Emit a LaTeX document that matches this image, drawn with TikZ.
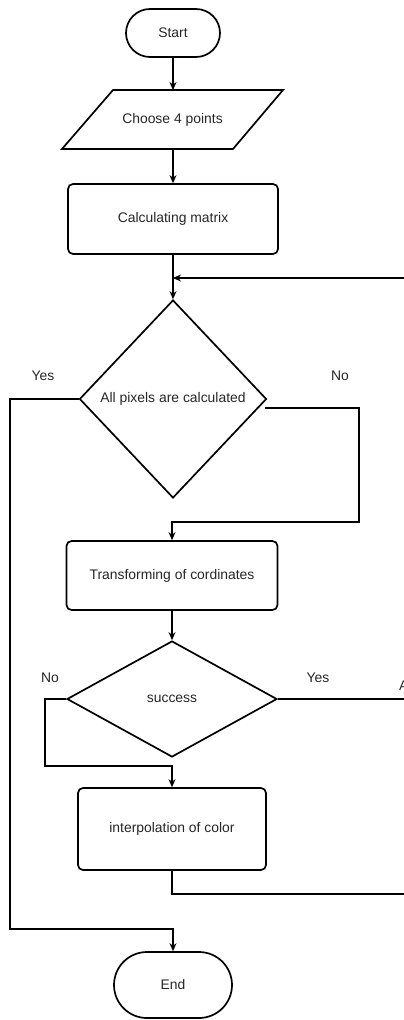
\documentclass[tikz,border=0pt]{standalone}
\usepackage{fontspec}
\setmainfont{Liberation Sans}
\usetikzlibrary{shapes.geometric,shapes.misc,arrows.meta,calc}
\begin{document}
\begin{tikzpicture}[x=1pt,y=-1pt,
  font=\fontsize{13.9}{16}\selectfont,
  every node/.style={text=black!85},
  term/.style={draw=black, line width=1.7pt, rounded rectangle, inner sep=0pt},
  procbox/.style={draw=black, line width=1.7pt, rounded corners=5pt, inner sep=0pt},
  decision/.style={draw=black, line width=1.7pt, diamond, inner sep=0pt},
  conn/.style={draw=black, line width=1.1pt},
  arr/.style={conn, -{Stealth[length=8pt,width=7pt]}},
  lbl/.style={inner sep=0pt}
]
\useasboundingbox (0,0) rectangle (404,1020);

% nodes
\node[term, minimum width=94pt, minimum height=48pt] (start) at (173,33) {Start};
\node[minimum width=170pt, minimum height=59pt, inner sep=0pt] (choose) at (172.5,119.5) {Choose 4 points};
\draw[line width=1.7pt, line join=miter] (113,90) -- (283,90) -- (233,149) -- (62,149) -- cycle;
\node[procbox, minimum width=210pt, minimum height=70pt] (calc) at (173,219) {Calculating matrix};
\node[decision, minimum width=187pt, minimum height=198pt] (d1) at (173,399) {All pixels are calculated};
\node[procbox, minimum width=211pt, minimum height=69pt] (trans) at (172,575.5) {Transforming of cordinates};
\node[decision, minimum width=210pt, minimum height=116pt] (d2) at (172,699) {success};
\node[procbox, minimum width=188pt, minimum height=82pt] (interp) at (172,829) {interpolation of color};
\node[term, minimum width=118pt, minimum height=66pt] (end) at (173,985) {End};

% labels
\node[lbl] (y1) at (43,376) {Yes};
\node[lbl] (n1) at (340,376) {No};
\node[lbl] (n2) at (50,678) {No};
\node[lbl] (y2) at (318,678) {Yes};
\node[lbl, anchor=west] (aa) at (399,686) {A};

% free-end coordinates
\coordinate (loopin) at (420,278);
\coordinate (yesL) at (10,399);
\coordinate (yesB) at (10,929);
\coordinate (noS) at ($(d1.east)+(-2,9)$);
\coordinate (noR) at (359,408);
\coordinate (noB) at (359,522);
\coordinate (n2L) at (45,699);
\coordinate (n2B) at (45,766);
\coordinate (y2R) at (420,699);
\coordinate (intB) at (172,894);
\coordinate (intR) at (420,894);

% connectors
\draw[arr] (start.south) -- (173,90);
\draw[arr] (173,149) -- (calc.north);
\draw[arr] (calc.south) -- (d1.north);
\draw[arr] (loopin) -- (loopin -| d1.north);
\draw[arr] (d1.west) -- (yesL) -- (yesB) -| (end.north);
\draw[arr] (noS) -- (noR) -- (noB) -| (trans.north);
\draw[arr] (trans.south) -- (d2.north);
\draw[conn] (d2.east) -- (y2R);
\draw[arr] (d2.west) -- (n2L) -- (n2B) -| (interp.north);
\draw[conn] (interp.south) -- (intB) -- (intR);
\end{tikzpicture}
\end{document}
